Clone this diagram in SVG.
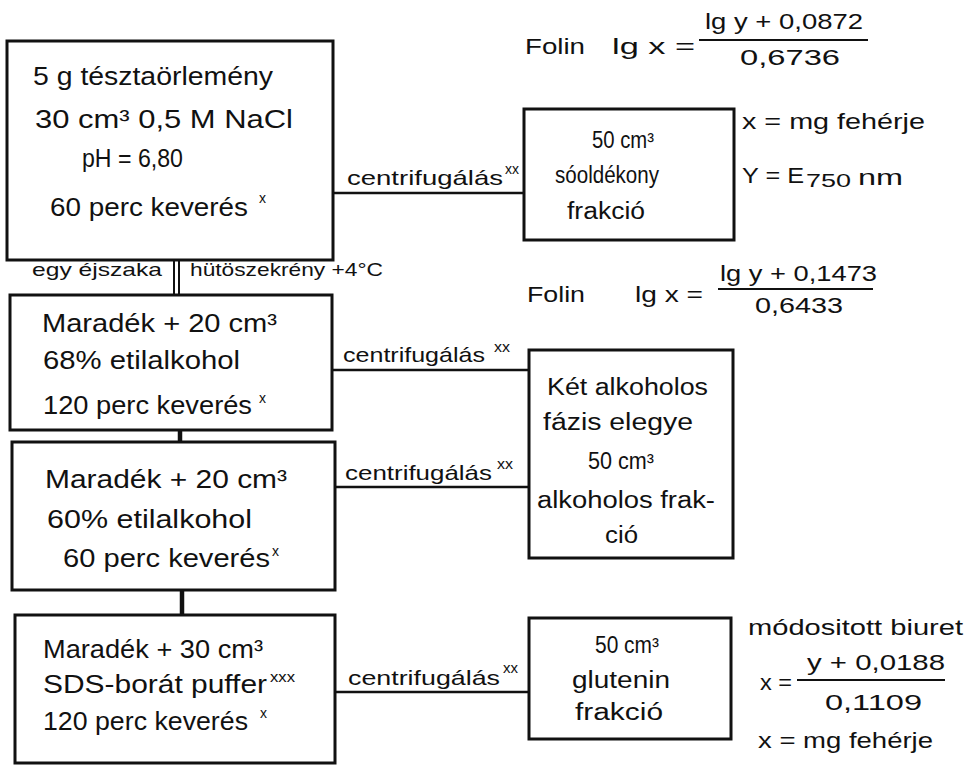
<svg xmlns="http://www.w3.org/2000/svg" width="965" height="766" viewBox="0 0 965 766">
  <style>
    text { font-family: "Liberation Sans", Arial, sans-serif; fill: #111; }
    .b { font-size: 26px; }
    .m { font-size: 23px; }
    .f { font-size: 22px; }
    .l { font-size: 21px; }
    .n { font-size: 19px; }
    .sup { font-size: 14px; }
    .box { fill: #fff; stroke: #111; stroke-width: 3; }
    .wire { stroke: #111; stroke-width: 2.6; fill: none; }
    .stem { stroke: #111; stroke-width: 4.5; fill: none; }
    .rule { stroke: #111; stroke-width: 2; }
  </style>
  <rect width="965" height="766" fill="#fff"/>

  <!-- connectors -->
  <g id="connectors">
    <line class="wire" x1="333" y1="193" x2="524" y2="193"/>
    <line class="rule" x1="174" y1="260" x2="174" y2="295"/>
    <line class="rule" x1="179" y1="260" x2="179" y2="295"/>
    <line class="wire" x1="332" y1="370" x2="529" y2="370"/>
    <line class="stem" x1="180" y1="430" x2="180" y2="442"/>
    <line class="wire" x1="335" y1="487" x2="529" y2="487"/>
    <line class="stem" x1="182" y1="590" x2="182" y2="615"/>
    <line class="wire" x1="335" y1="692" x2="529" y2="692"/>

    <text class="l" x="347" y="185" textLength="156" lengthAdjust="spacingAndGlyphs">centrifugálás</text>
    <text class="sup" x="505" y="174" textLength="14" lengthAdjust="spacingAndGlyphs">xx</text>
    <text class="l" x="343" y="362" textLength="142" lengthAdjust="spacingAndGlyphs">centrifugálás</text>
    <text class="sup" x="494" y="352" textLength="16" lengthAdjust="spacingAndGlyphs">xx</text>
    <text class="l" x="345" y="480" textLength="147" lengthAdjust="spacingAndGlyphs">centrifugálás</text>
    <text class="sup" x="497" y="469" textLength="16" lengthAdjust="spacingAndGlyphs">xx</text>
    <text class="l" x="348" y="685" textLength="152" lengthAdjust="spacingAndGlyphs">centrifugálás</text>
    <text class="sup" x="503" y="673" textLength="15" lengthAdjust="spacingAndGlyphs">xx</text>

    <text class="n" x="32" y="276" textLength="130" lengthAdjust="spacingAndGlyphs">egy éjszaka</text>
    <text class="n" x="190" y="276" textLength="193" lengthAdjust="spacingAndGlyphs">hütöszekrény +4°C</text>
  </g>

  <!-- step 1: salt extraction -->
  <g id="step-salt">
    <rect class="box" x="7" y="41" width="326" height="219"/>
    <text class="b" x="33" y="85" textLength="240" lengthAdjust="spacingAndGlyphs">5 g tésztaörlemény</text>
    <text class="b" x="35" y="128" textLength="258" lengthAdjust="spacingAndGlyphs">30 cm³  0,5 M  NaCl</text>
    <text class="b" x="82" y="167" textLength="101" lengthAdjust="spacingAndGlyphs">pH = 6,80</text>
    <text class="b" x="50" y="216" textLength="198" lengthAdjust="spacingAndGlyphs">60 perc keverés</text>
    <text class="sup" x="259" y="203">x</text>
  </g>

  <!-- step 2: 68% ethanol -->
  <g id="step-ethanol-68">
    <rect class="box" x="10" y="295" width="322" height="135"/>
    <text class="b" x="42" y="332" textLength="235" lengthAdjust="spacingAndGlyphs">Maradék + 20 cm³</text>
    <text class="b" x="43" y="369" textLength="197" lengthAdjust="spacingAndGlyphs">68% etilalkohol</text>
    <text class="b" x="43" y="414" textLength="209" lengthAdjust="spacingAndGlyphs">120 perc keverés</text>
    <text class="sup" x="259" y="403">x</text>
  </g>

  <!-- step 3: 60% ethanol -->
  <g id="step-ethanol-60">
    <rect class="box" x="12" y="442" width="323" height="148"/>
    <text class="b" x="45" y="488" textLength="242" lengthAdjust="spacingAndGlyphs">Maradék + 20 cm³</text>
    <text class="b" x="47" y="528" textLength="205" lengthAdjust="spacingAndGlyphs">60% etilalkohol</text>
    <text class="b" x="63" y="567" textLength="207" lengthAdjust="spacingAndGlyphs">60 perc keverés</text>
    <text class="sup" x="272" y="556">x</text>
  </g>

  <!-- step 4: SDS-borate buffer -->
  <g id="step-sds">
    <rect class="box" x="15" y="615" width="320" height="148"/>
    <text class="b" x="43" y="658" textLength="220" lengthAdjust="spacingAndGlyphs">Maradék + 30 cm³</text>
    <text class="b" x="43" y="693" textLength="224" lengthAdjust="spacingAndGlyphs">SDS-borát puffer</text>
    <text class="sup" x="270" y="682" textLength="25" lengthAdjust="spacingAndGlyphs">xxx</text>
    <text class="b" x="43" y="730" textLength="205" lengthAdjust="spacingAndGlyphs">120 perc keverés</text>
    <text class="sup" x="260" y="718">x</text>
  </g>

  <!-- fraction: salt soluble -->
  <g id="fraction-salt">
    <rect class="box" x="524" y="109" width="210" height="131"/>
    <text class="m" x="592" y="148" textLength="62" lengthAdjust="spacingAndGlyphs">50 cm³</text>
    <text class="m" x="555" y="183" textLength="104" lengthAdjust="spacingAndGlyphs">sóoldékony</text>
    <text class="m" x="567" y="219" textLength="78" lengthAdjust="spacingAndGlyphs">frakció</text>
  </g>

  <!-- fraction: alcohol soluble -->
  <g id="fraction-alcohol">
    <rect class="box" x="529" y="350" width="204" height="208"/>
    <text class="m" x="547" y="395" textLength="161" lengthAdjust="spacingAndGlyphs">Két alkoholos</text>
    <text class="m" x="543" y="430" textLength="150" lengthAdjust="spacingAndGlyphs">fázis elegye</text>
    <text class="m" x="588" y="469" textLength="66" lengthAdjust="spacingAndGlyphs">50 cm³</text>
    <text class="m" x="537" y="508" textLength="178" lengthAdjust="spacingAndGlyphs">alkoholos frak-</text>
    <text class="m" x="605" y="543" textLength="33" lengthAdjust="spacingAndGlyphs">ció</text>
  </g>

  <!-- fraction: glutenin -->
  <g id="fraction-glutenin">
    <rect class="box" x="529" y="618" width="202" height="121"/>
    <text class="m" x="595" y="653" textLength="64" lengthAdjust="spacingAndGlyphs">50 cm³</text>
    <text class="m" x="572" y="688" textLength="98" lengthAdjust="spacingAndGlyphs">glutenin</text>
    <text class="m" x="575" y="720" textLength="88" lengthAdjust="spacingAndGlyphs">frakció</text>
  </g>

  <!-- Folin calibration, salt fraction -->
  <g id="formula-folin-1">
    <text class="f" x="525" y="54" textLength="60" lengthAdjust="spacingAndGlyphs">Folin</text>
    <text class="f" x="612" y="54" textLength="83" lengthAdjust="spacingAndGlyphs">lg x =</text>
    <line class="rule" x1="699" y1="40" x2="868" y2="40"/>
    <text class="f" x="705" y="29" textLength="158" lengthAdjust="spacingAndGlyphs">lg y + 0,0872</text>
    <text class="f" x="740" y="65" textLength="100" lengthAdjust="spacingAndGlyphs">0,6736</text>
    <text class="f" x="742" y="129" textLength="183" lengthAdjust="spacingAndGlyphs">x = mg fehérje</text>
    <text class="f" x="742" y="183" textLength="62" lengthAdjust="spacingAndGlyphs">Y = E</text>
    <text class="n" x="806" y="187" textLength="45" lengthAdjust="spacingAndGlyphs">750</text>
    <text class="f" x="858" y="185" textLength="45" lengthAdjust="spacingAndGlyphs">nm</text>
  </g>

  <!-- Folin calibration, alcohol fraction -->
  <g id="formula-folin-2">
    <text class="f" x="527" y="302" textLength="58" lengthAdjust="spacingAndGlyphs">Folin</text>
    <text class="f" x="635" y="302" textLength="68" lengthAdjust="spacingAndGlyphs">lg x =</text>
    <line class="rule" x1="718" y1="289" x2="873" y2="289"/>
    <text class="f" x="720" y="281" textLength="157" lengthAdjust="spacingAndGlyphs">lg y + 0,1473</text>
    <text class="f" x="755" y="313" textLength="88" lengthAdjust="spacingAndGlyphs">0,6433</text>
  </g>

  <!-- modified biuret calibration, glutenin fraction -->
  <g id="formula-biuret">
    <text class="f" x="748" y="635" textLength="215" lengthAdjust="spacingAndGlyphs">módositott biuret</text>
    <text class="f" x="760" y="690" textLength="32" lengthAdjust="spacingAndGlyphs">x =</text>
    <line class="rule" x1="797" y1="680" x2="945" y2="680"/>
    <text class="f" x="807" y="670" textLength="138" lengthAdjust="spacingAndGlyphs">y + 0,0188</text>
    <text class="f" x="825" y="710" textLength="97" lengthAdjust="spacingAndGlyphs">0,1109</text>
    <text class="f" x="758" y="748" textLength="175" lengthAdjust="spacingAndGlyphs">x = mg fehérje</text>
  </g>
</svg>
